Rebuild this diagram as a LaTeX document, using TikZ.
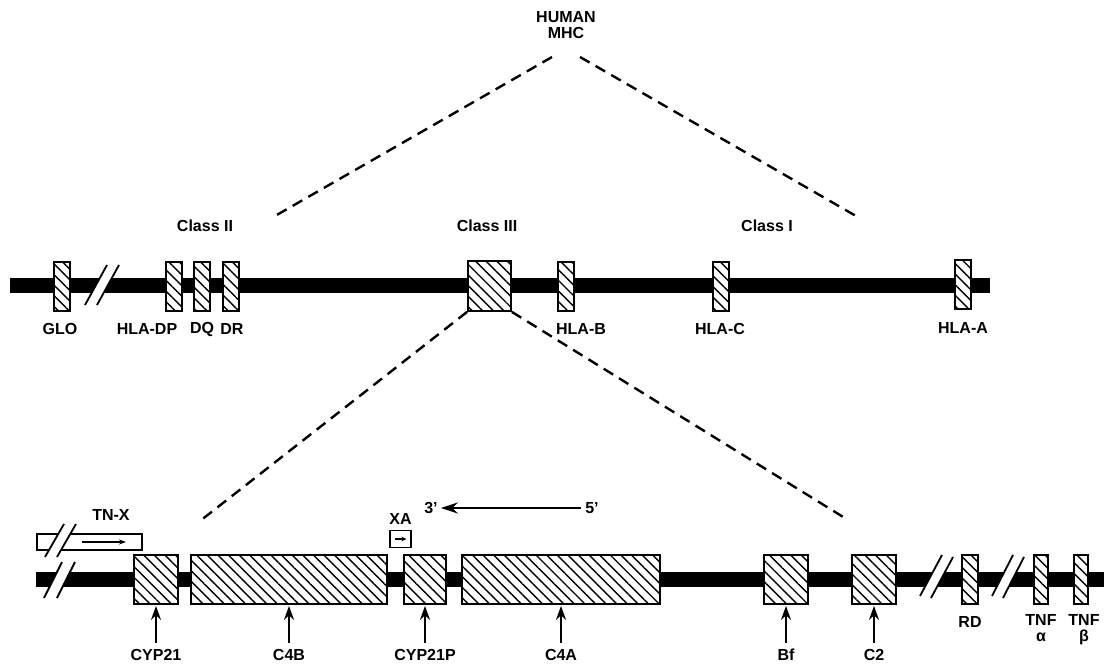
\documentclass[tikz,border=0pt]{standalone}
\usepackage{fontspec}
\setmainfont{Liberation Sans}
\usetikzlibrary{patterns.meta,arrows.meta}
\begin{document}
\begin{tikzpicture}[x=1pt,y=-1pt,
  lbl/.style={font=\fontsize{16}{16.5}\selectfont\bfseries, inner sep=0pt, align=center},
  hatch/.style={draw, line width=1.8pt, preaction={fill=white},
    pattern={Lines[angle=-45,distance=7.5pt,line width=1.4pt]},
    inner sep=0pt, minimum height=49pt},
  dsh/.style={line width=2.4pt, dash pattern=on 11pt off 7pt},
  ptr/.style={line width=1.8pt, -{Stealth[length=14pt,width=10pt]}},
  brk/.style={line width=1.8pt}
]
\useasboundingbox (0,0) rectangle (1104,666);

% ---------- title ----------
\node[lbl] (title) at (566,25) {HUMAN\\MHC};
\coordinate (mhcL) at (552,57);
\coordinate (mhcR) at (580,57);
\coordinate (endL) at (275,216);
\coordinate (endR) at (856,216);
\draw[dsh] (mhcL) -- (endL);
\draw[dsh] (mhcR) -- (endR);

\node[lbl] (cII) at (205,226) {Class II};
\node[lbl] (cIII) at (487,226) {Class III};
\node[lbl] (cI) at (767,226) {Class I};

% ---------- top chromosome ----------
\fill (10,278) rectangle (990,293);
\fill[white] (85,305) -- (97,305) -- (119,265) -- (107,265) -- cycle;
\draw[brk] (85,305) -- (107,265) (97,305) -- (119,265);

\node[hatch, minimum width=16pt] (glo) at (62,286.5) {};
\node[hatch, minimum width=16pt] (dp) at (174,286.5) {};
\node[hatch, minimum width=16pt] (dq) at (202,286.5) {};
\node[hatch, minimum width=16pt] (dr) at (231,286.5) {};
\node[hatch, minimum width=43pt, minimum height=50pt] (c3) at (489.5,286) {};
\node[hatch, minimum width=16pt] (hlab) at (566,286.5) {};
\node[hatch, minimum width=16pt] (hlac) at (721,286.5) {};
\node[hatch, minimum width=16pt] (hlaa) at (963,284.5) {};

\node[lbl] (lglo) at (60,329) {GLO};
\node[lbl] (ldp) at (147,329) {HLA-DP};
\node[lbl] (ldq) at (202,329) {DQ};
\node[lbl] (ldr) at (232,329) {DR};
\node[lbl] (lhlab) at (581,329) {HLA-B};
\node[lbl] (lhlac) at (720,329) {HLA-C};
\node[lbl] (lhlaa) at (963,328) {HLA-A};

% ---------- zoom lines ----------
\coordinate (zl) at (200,521);
\coordinate (zr) at (848,520);
\draw[dsh] (c3.south west) -- (zl);
\draw[dsh] (c3.south east) -- (zr);

% ---------- 3' <- 5' ----------
\node[lbl] (p3) at (431,508) {3'};
\node[lbl] (p5) at (592,508) {5'};
\draw[line width=2.6pt, -{Stealth[length=17pt,width=11pt]}] ([xshift=-4pt]p5.west) -- ([xshift=3pt]p3.east);

% ---------- TN-X ----------
\node[lbl] (tnx) at (111,515) {TN-X};
\draw[line width=1.7pt] (37,534) rectangle (142,550);
\fill[white] (45,557) -- (57,557) -- (76,524) -- (64,524) -- cycle;
\draw[brk] (45,557) -- (64,524) (57,557) -- (76,524);
\draw[line width=1.4pt, -{Stealth[length=7pt,width=5pt]}] (82,542) -- (126,542);

% ---------- XA ----------
\node[lbl] (xa) at (400.5,519) {XA};
\node[draw, line width=1.7pt, minimum width=21pt, minimum height=17pt, inner sep=0pt] (xabox) at (400.5,539) {};
\draw[line width=1.4pt, -{Stealth[length=5pt,width=4.5pt]}] ([xshift=-6pt]xabox.center) -- ([xshift=6pt]xabox.center);

% ---------- bottom chromosome ----------
\fill (36,572) rectangle (1104,587);
\fill[white] (44,598) -- (57,598) -- (75,562) -- (62,562) -- cycle;
\draw[brk] (44,598) -- (62,562) (57,598) -- (75,562);
\fill[white] (920,596) -- (931,598) -- (953,557) -- (942,555) -- cycle;
\draw[brk] (920,596) -- (942,555) (931,598) -- (953,557);
\fill[white] (992,596) -- (1003,598) -- (1024,557) -- (1013,555) -- cycle;
\draw[brk] (992,596) -- (1013,555) (1003,598) -- (1024,557);

\node[hatch, minimum width=44pt] (cyp21) at (156,579.5) {};
\node[hatch, minimum width=196pt] (c4b) at (289,579.5) {};
\node[hatch, minimum width=42pt] (cyp21p) at (425,579.5) {};
\node[hatch, minimum width=198pt] (c4a) at (561,579.5) {};
\node[hatch, minimum width=44pt] (bf) at (786,579.5) {};
\node[hatch, minimum width=44pt] (c2) at (874,579.5) {};
\node[hatch, minimum width=16pt] (rd) at (970,579.5) {};
\node[hatch, minimum width=14pt] (tnfa) at (1041,579.5) {};
\node[hatch, minimum width=14pt] (tnfb) at (1081,579.5) {};

\node[lbl] (lcyp21) at (156,655) {CYP21};
\node[lbl] (lc4b) at (289,655) {C4B};
\node[lbl] (lcyp21p) at (425,655) {CYP21P};
\node[lbl] (lc4a) at (561,655) {C4A};
\node[lbl] (lbf) at (786,655) {Bf};
\node[lbl] (lc2) at (874,655) {C2};
\node[lbl] (lrd) at (970,622) {RD};
\node[lbl, anchor=north] (ltnfa) at (1041,614) {TNF\\α};
\node[lbl, anchor=north] (ltnfb) at (1084,614) {TNF\\β};

\foreach \g in {cyp21,c4b,cyp21p,c4a,bf,c2}{
  \draw[ptr, shorten <=6pt, shorten >=1pt] (l\g.north -| \g.south) -- (\g.south);
}
\end{tikzpicture}
\end{document}
